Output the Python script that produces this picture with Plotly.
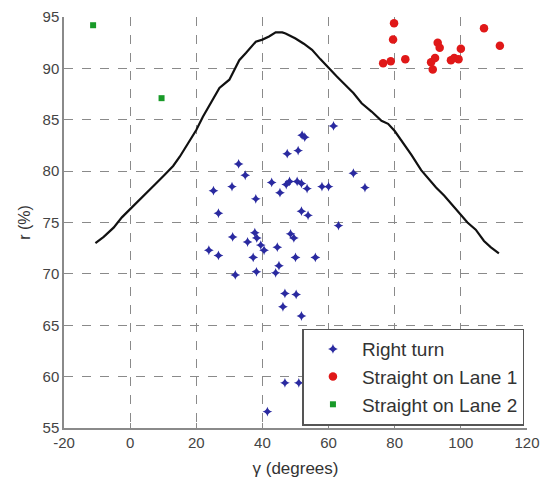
import plotly.graph_objects as go

# Right turn (blue stars)
right_x = [61.5, 52.0, 52.8, 47.5, 50.8, 32.8, 34.8, 67.5, 71.0, 25.2, 30.8, 42.8, 45.3, 47.2,
           48.2, 50.5, 51.8, 53.5, 58.0, 60.0, 38.0, 26.7, 51.8, 53.8, 63.0, 31.0, 37.7, 35.5,
           38.3, 39.5, 40.5, 44.5, 48.5, 49.5, 23.8, 26.7, 37.2, 50.0, 56.0, 45.0, 31.8, 38.2,
           44.0, 46.8, 50.2, 46.2, 51.8, 46.8, 51.0, 41.5]
right_y = [84.4, 83.5, 83.3, 81.7, 82.0, 80.7, 79.6, 79.8, 78.4, 78.1, 78.5, 78.9, 77.9, 78.7,
           79.0, 79.0, 78.8, 78.3, 78.5, 78.5, 77.3, 75.9, 76.1, 75.7, 74.7, 73.6, 74.0, 73.1,
           73.5, 72.8, 72.3, 72.6, 73.9, 73.5, 72.3, 71.8, 71.6, 71.6, 71.6, 70.8, 69.9, 70.2,
           70.1, 68.1, 68.0, 66.8, 65.9, 59.4, 59.4, 56.6]

# Straight on Lane 1 (red dots)
lane1_x = [79.8, 79.5, 76.5, 78.8, 83.2, 91.0, 91.5, 92.2, 93.0, 93.6, 97.0, 98.0, 99.3, 100.0, 107.0, 111.8]
lane1_y = [94.4, 92.8, 90.5, 90.7, 90.9, 90.6, 89.9, 91.0, 92.5, 92.0, 90.8, 91.0, 90.9, 91.9, 93.9, 92.2]

# Straight on Lane 2 (green squares)
lane2_x = [-11.2, 9.5]
lane2_y = [94.2, 87.1]

# Boundary curve (black)
curve_x = [-10.5, -8.0, -5.0, -2.5, 0.0, 3.0, 5.0, 7.5, 10.0, 13.0, 15.0, 17.4, 20.0, 22.0, 24.5,
           27.0, 30.0, 33.0, 35.0, 38.0, 40.0, 42.0, 44.0, 46.0, 47.0, 50.0, 52.5, 55.0, 57.5,
           60.0, 62.5, 65.0, 67.5, 70.0, 73.0, 76.0, 78.0, 80.0, 82.5, 85.0, 88.0, 90.0, 92.5,
           95.0, 97.5, 100.0, 102.0, 104.5, 107.0, 109.0, 111.5]
curve_y = [73.0, 73.6, 74.5, 75.5, 76.3, 77.3, 77.9, 78.7, 79.5, 80.5, 81.4, 82.6, 84.0, 85.3, 86.7,
           88.1, 88.9, 90.8, 91.5, 92.6, 92.8, 93.1, 93.5, 93.5, 93.4, 92.9, 92.4, 91.8, 90.9,
           90.0, 89.2, 88.4, 87.6, 86.6, 85.8, 84.9, 84.6, 83.9, 82.8, 81.6, 80.1, 79.3, 78.4,
           77.6, 76.7, 75.8, 75.0, 74.3, 73.2, 72.6, 72.0]

xticks = [-20, 0, 20, 40, 60, 80, 100, 120]
yticks = [55, 60, 65, 70, 75, 80, 85, 90, 95]

FONT = "Liberation Sans, Arial"

fig = go.Figure()
fig.add_trace(go.Scatter(x=curve_x, y=curve_y, mode="lines", line=dict(color="#111111", width=2.2),
                         showlegend=False, hoverinfo="skip"))
fig.add_trace(go.Scatter(x=right_x, y=right_y, mode="markers", name="Right turn", legendgroup="a",
                         marker=dict(symbol="star-diamond", size=7, color="#2a2aa0")))
fig.add_trace(go.Scatter(x=lane1_x, y=lane1_y, mode="markers", name="Straight on Lane 1", legendgroup="b",
                         marker=dict(symbol="circle", size=8.5, color="#e01818")))
fig.add_trace(go.Scatter(x=lane2_x, y=lane2_y, mode="markers", name="Straight on Lane 2", legendgroup="c",
                         marker=dict(symbol="square", size=6, color="#189a28")))

axis_common = dict(
    showgrid=True, gridcolor="#8a8a8a", griddash="dash", gridwidth=1,
    zeroline=False, showline=True, linecolor="#8a8a8a", linewidth=1.5,
    ticks="inside", ticklen=5, tickcolor="#8a8a8a", automargin=False,
    tickfont=dict(family=FONT, size=15, color="#444444"),
)

fig.update_xaxes(range=[-20, 120], tickvals=xticks, ticktext=[str(v) for v in xticks],
                 title=dict(text="γ (degrees)", font=dict(family=FONT, size=17, color="#333333"),
                            standoff=12),
                 **axis_common)
fig.update_yaxes(range=[55, 95], tickvals=yticks, ticktext=[str(v) for v in yticks],
                 title=dict(text="r (%)", font=dict(family=FONT, size=16, color="#333333"),
                            standoff=8),
                 **axis_common)

fig.update_layout(
    width=542, height=485,
    margin=dict(l=64, r=15, t=17, b=57),
    plot_bgcolor="white", paper_bgcolor="white",
    legend=dict(x=0.515, y=0.242, xanchor="left", yanchor="top",
                bgcolor="white", bordercolor="#555555", borderwidth=1.5,
                font=dict(family=FONT, size=19, color="#333333"),
                traceorder="grouped", tracegroupgap=0, itemwidth=48),
)

fig.write_html("out.html", config={"displayModeBar": False},
               post_script="document.body.style.margin='0';")
